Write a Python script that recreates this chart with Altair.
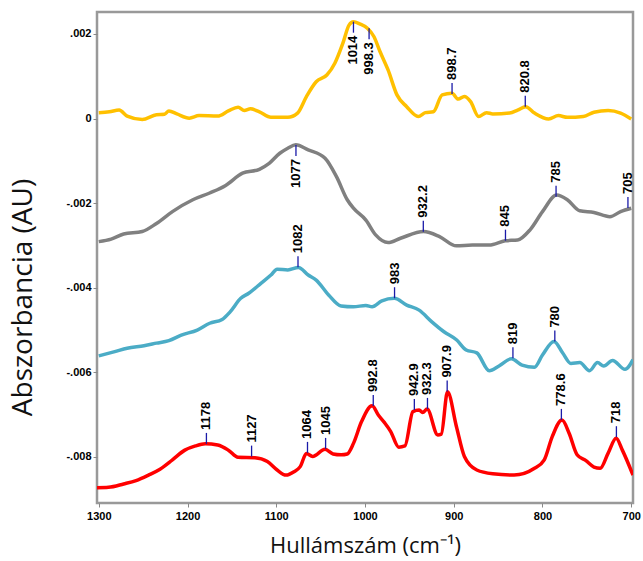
import altair as alt
import pandas as pd

# ---- data (wavenumber cm-1, absorbance AU) ----
yellow_wn = [1300, 1288, 1277, 1268, 1251, 1235, 1226, 1221, 1212, 1198, 1187, 1166, 1154, 1143, 1136, 1129, 1119, 1106, 1087, 1076,
             1066, 1055, 1043, 1034, 1025, 1018, 1013, 1006, 997, 990, 983, 974, 964, 953, 940, 932, 923, 913, 902, 895,
             888, 881, 872, 863, 856, 837, 828, 819, 809, 793, 782, 772, 754, 742, 726, 712, 700]
yellow_ab = [0.00014, 0.00016, 0.00020, 0.00006, -0.00002, 0.00009, 0.00010, 0.00018, 0.00011, 0.00001, 0.00007, 0.00006, 0.00018, 0.00027, 0.00019, 0.00023, 0.00016, 0.00003, 0.00003, 0.00013,
             0.00052, 0.00087, 0.00103, 0.00131, 0.00178, 0.00221, 0.00229, 0.00224, 0.00213, 0.00194, 0.00158, 0.00115, 0.00056, 0.00028, 0.00005, 0.00014, 0.00016, 0.00056, 0.00060, 0.00046,
             0.00052, 0.00040, 0.00005, 0.00014, 0.00011, 0.00013, 0.00020, 0.00028, 0.00013, -0.00001, 0.00007, 0.00003, 0.00005, 0.00015, 0.00019, 0.00013, -0.00001]

gray_wn = [1300, 1286, 1272, 1251, 1235, 1217, 1194, 1175, 1157, 1138, 1119, 1108, 1096, 1087, 1078, 1064, 1045, 1032, 1020, 1013,
           999, 988, 974, 960, 934, 916, 897, 879, 860, 842, 828, 814, 800, 784, 772, 758, 742, 724, 712, 700]
gray_ab = [-0.00291, -0.00285, -0.00273, -0.00267, -0.00248, -0.00220, -0.00192, -0.00176, -0.00158, -0.00129, -0.00120, -0.00106, -0.00082, -0.00070, -0.00062, -0.00074, -0.00094, -0.00138, -0.00192, -0.00212,
           -0.00240, -0.00275, -0.00293, -0.00283, -0.00267, -0.00279, -0.00301, -0.00299, -0.00299, -0.00289, -0.00287, -0.00263, -0.00220, -0.00181, -0.00192, -0.00218, -0.00222, -0.00232, -0.00220, -0.00212]

blue_wn = [1300, 1282, 1268, 1249, 1235, 1221, 1207, 1189, 1175, 1161, 1152, 1140, 1131, 1117, 1106, 1099, 1087, 1075, 1064, 1055,
           1041, 1027, 1013, 999, 992, 981, 967, 953, 939, 925, 911, 897, 886, 874, 860, 849, 835, 823, 809, 800,
           787, 777, 768, 758, 747, 738, 731, 721, 707, 698]
blue_ab = [-0.00561, -0.00551, -0.00543, -0.00537, -0.00531, -0.00525, -0.00512, -0.00500, -0.00484, -0.00475, -0.00457, -0.00425, -0.00413, -0.00389, -0.00370, -0.00356, -0.00358, -0.00352, -0.00370, -0.00382,
           -0.00417, -0.00443, -0.00445, -0.00442, -0.00445, -0.00431, -0.00425, -0.00441, -0.00453, -0.00480, -0.00504, -0.00523, -0.00547, -0.00554, -0.00596, -0.00585, -0.00568, -0.00583, -0.00588, -0.00559,
           -0.00527, -0.00555, -0.00579, -0.00577, -0.00596, -0.00577, -0.00585, -0.00572, -0.00593, -0.00570]

red_wn = [1302, 1289, 1272, 1258, 1244, 1231, 1217, 1203, 1191, 1180, 1166, 1154, 1143, 1124, 1110, 1099, 1089, 1080, 1073, 1066,
          1059, 1045, 1036, 1027, 1020, 1013, 1004, 992, 985, 978, 971, 962, 955, 946, 939, 935, 930, 918, 914, 907,
          897, 888, 874, 856, 832, 809, 798, 789, 778, 770, 761, 751, 742, 735, 726, 717, 710, 698]
red_ab = [-0.00873, -0.00872, -0.00864, -0.00856, -0.00843, -0.00829, -0.00807, -0.00784, -0.00774, -0.00769, -0.00772, -0.00784, -0.00801, -0.00802, -0.00811, -0.00831, -0.00843, -0.00835, -0.00823, -0.00792,
          -0.00799, -0.00782, -0.00793, -0.00795, -0.00793, -0.00768, -0.00717, -0.00679, -0.00701, -0.00719, -0.00740, -0.00777, -0.00774, -0.00693, -0.00689, -0.00695, -0.00687, -0.00748, -0.00746, -0.00646,
          -0.00728, -0.00799, -0.00831, -0.00840, -0.00843, -0.00827, -0.00807, -0.00752, -0.00713, -0.00744, -0.00795, -0.00809, -0.00824, -0.00827, -0.00791, -0.00756, -0.00784, -0.00843]

series_names = ["yellow", "gray", "blue", "red"]
series_colors = ["#FFC000", "#808080", "#4BACC6", "#FF0000"]

# peak markers: position on the picture, curve value at the marker, label text, direction
peak_wn = [1013.0, 995.4, 901.9, 819.4, 1077.8, 934.3, 841.7, 784.7, 703.7, 1075.5, 966.7, 833.3, 786.1,
           1178.7, 1127.8, 1064.8, 1044.4, 990.7, 944.4, 929.6, 907.4, 778.7, 716.7]
peak_ab = [0.002291, 0.002135, 0.000582, 0.000281, -0.000624, -0.002674, -0.002887, -0.001846, -0.002113,
           -0.003515, -0.004248, -0.005667, -0.005274,
           -0.007693, -0.007993, -0.007905, -0.007811, -0.006794, -0.006889, -0.006865, -0.006456, -0.007125, -0.007534]
peak_label = ["1014", "998.3", "898.7", "820.8", "1077", "932.2", "845", "785", "705", "1082", "983", "819", "780",
              "1178", "1127", "1064", "1045", "992.8", "942.9", "932.3", "907.9", "778.6", "718"]
peak_dir = ["down", "down", "up", "up", "down", "up", "up", "up", "up", "up", "up", "up", "up",
            "up", "up", "up", "up", "up", "up", "up", "up", "up", "up"]

y_ticks = [0.002, 0, -0.002, -0.004, -0.006, -0.008]
x_ticks = [1300, 1200, 1100, 1000, 900, 800, 700]

# ---- build tables ----
frames = []
for name, wn, ab in [("yellow", yellow_wn, yellow_ab), ("gray", gray_wn, gray_ab),
                     ("blue", blue_wn, blue_ab), ("red", red_wn, red_ab)]:
    frames.append(pd.DataFrame({"wn": wn, "ab": ab, "series": name}))
curves = pd.concat(frames, ignore_index=True)

TICK = 0.00026  # marker tick length in data units
peaks = pd.DataFrame({"wn": peak_wn, "ab": peak_ab, "label": peak_label, "dir": peak_dir})
peaks["end"] = [a + TICK if d == "up" else a - TICK for a, d in zip(peaks["ab"], peaks["dir"])]

xscale = alt.Scale(domain=[1302, 698], zero=False, nice=False)
yscale = alt.Scale(domain=[-0.00909, 0.00252], zero=False, nice=False)

label_font = "Liberation Sans"
title_font = "Open Sans"

x_enc = alt.X("wn:Q", scale=xscale, axis=alt.Axis(
    values=x_ticks, format="d", title="Hullámszám (cm⁻¹)", grid=False, domain=False,
    labelFont=label_font, labelFontWeight="bold", labelFontSize=11, labelColor="#000000",
    tickColor="#888888", tickSize=4, labelPadding=3, labelFlush=False,
    titleFont=title_font, titleFontWeight="normal", titleFontSize=22, titleColor="#111111",
    titleY=42, titleBaseline="middle"))

y_enc = alt.Y("ab:Q", scale=yscale, axis=alt.Axis(
    values=y_ticks, title="Abszorbancia (AU)", grid=False, domain=False,
    labelExpr="datum.value == 0 ? '0' : (datum.value < 0 ? '-' : '') + replace(format(abs(datum.value), '.3f'), '0.', '.')",
    labelFont=label_font, labelFontWeight="bold", labelFontSize=11, labelColor="#000000",
    tickColor="#888888", tickSize=4, labelPadding=2,
    titleFont=title_font, titleFontWeight="normal", titleFontSize=28, titleColor="#111111",
    titleAngle=270, titleX=-74, titleY=285, titleBaseline="middle", titleAlign="center"))

lines = alt.Chart(curves).mark_line(strokeWidth=3.5, interpolate="monotone", clip=True).encode(
    x=x_enc, y=y_enc,
    color=alt.Color("series:N", scale=alt.Scale(domain=series_names, range=series_colors), legend=None),
    detail="series:N")

ticks = alt.Chart(peaks).mark_rule(color="#1a1aa8", strokeWidth=1.3).encode(
    x="wn:Q", y="ab:Q", y2="end:Q")

up_text = alt.Chart(peaks).transform_filter("datum.dir == 'up'").mark_text(
    angle=270, align="left", baseline="middle", dx=3, font=label_font, fontWeight="bold",
    fontSize=13, color="#000000").encode(x="wn:Q", y="end:Q", text="label:N")

down_text = alt.Chart(peaks).transform_filter("datum.dir == 'down'").mark_text(
    angle=270, align="right", baseline="middle", dx=-3, font=label_font, fontWeight="bold",
    fontSize=13, color="#000000").encode(x="wn:Q", y="end:Q", text="label:N")

chart = alt.layer(lines, ticks, up_text, down_text).properties(
    width=536, height=491,
    autosize=alt.AutoSizeParams(type="none"),
    padding={"left": 97, "top": 12, "right": 10, "bottom": 58},
    background="#ffffff",
).configure_view(stroke="#999999", strokeWidth=2.5)

chart.save("out.html", embed_options={"renderer": "svg", "actions": False})
